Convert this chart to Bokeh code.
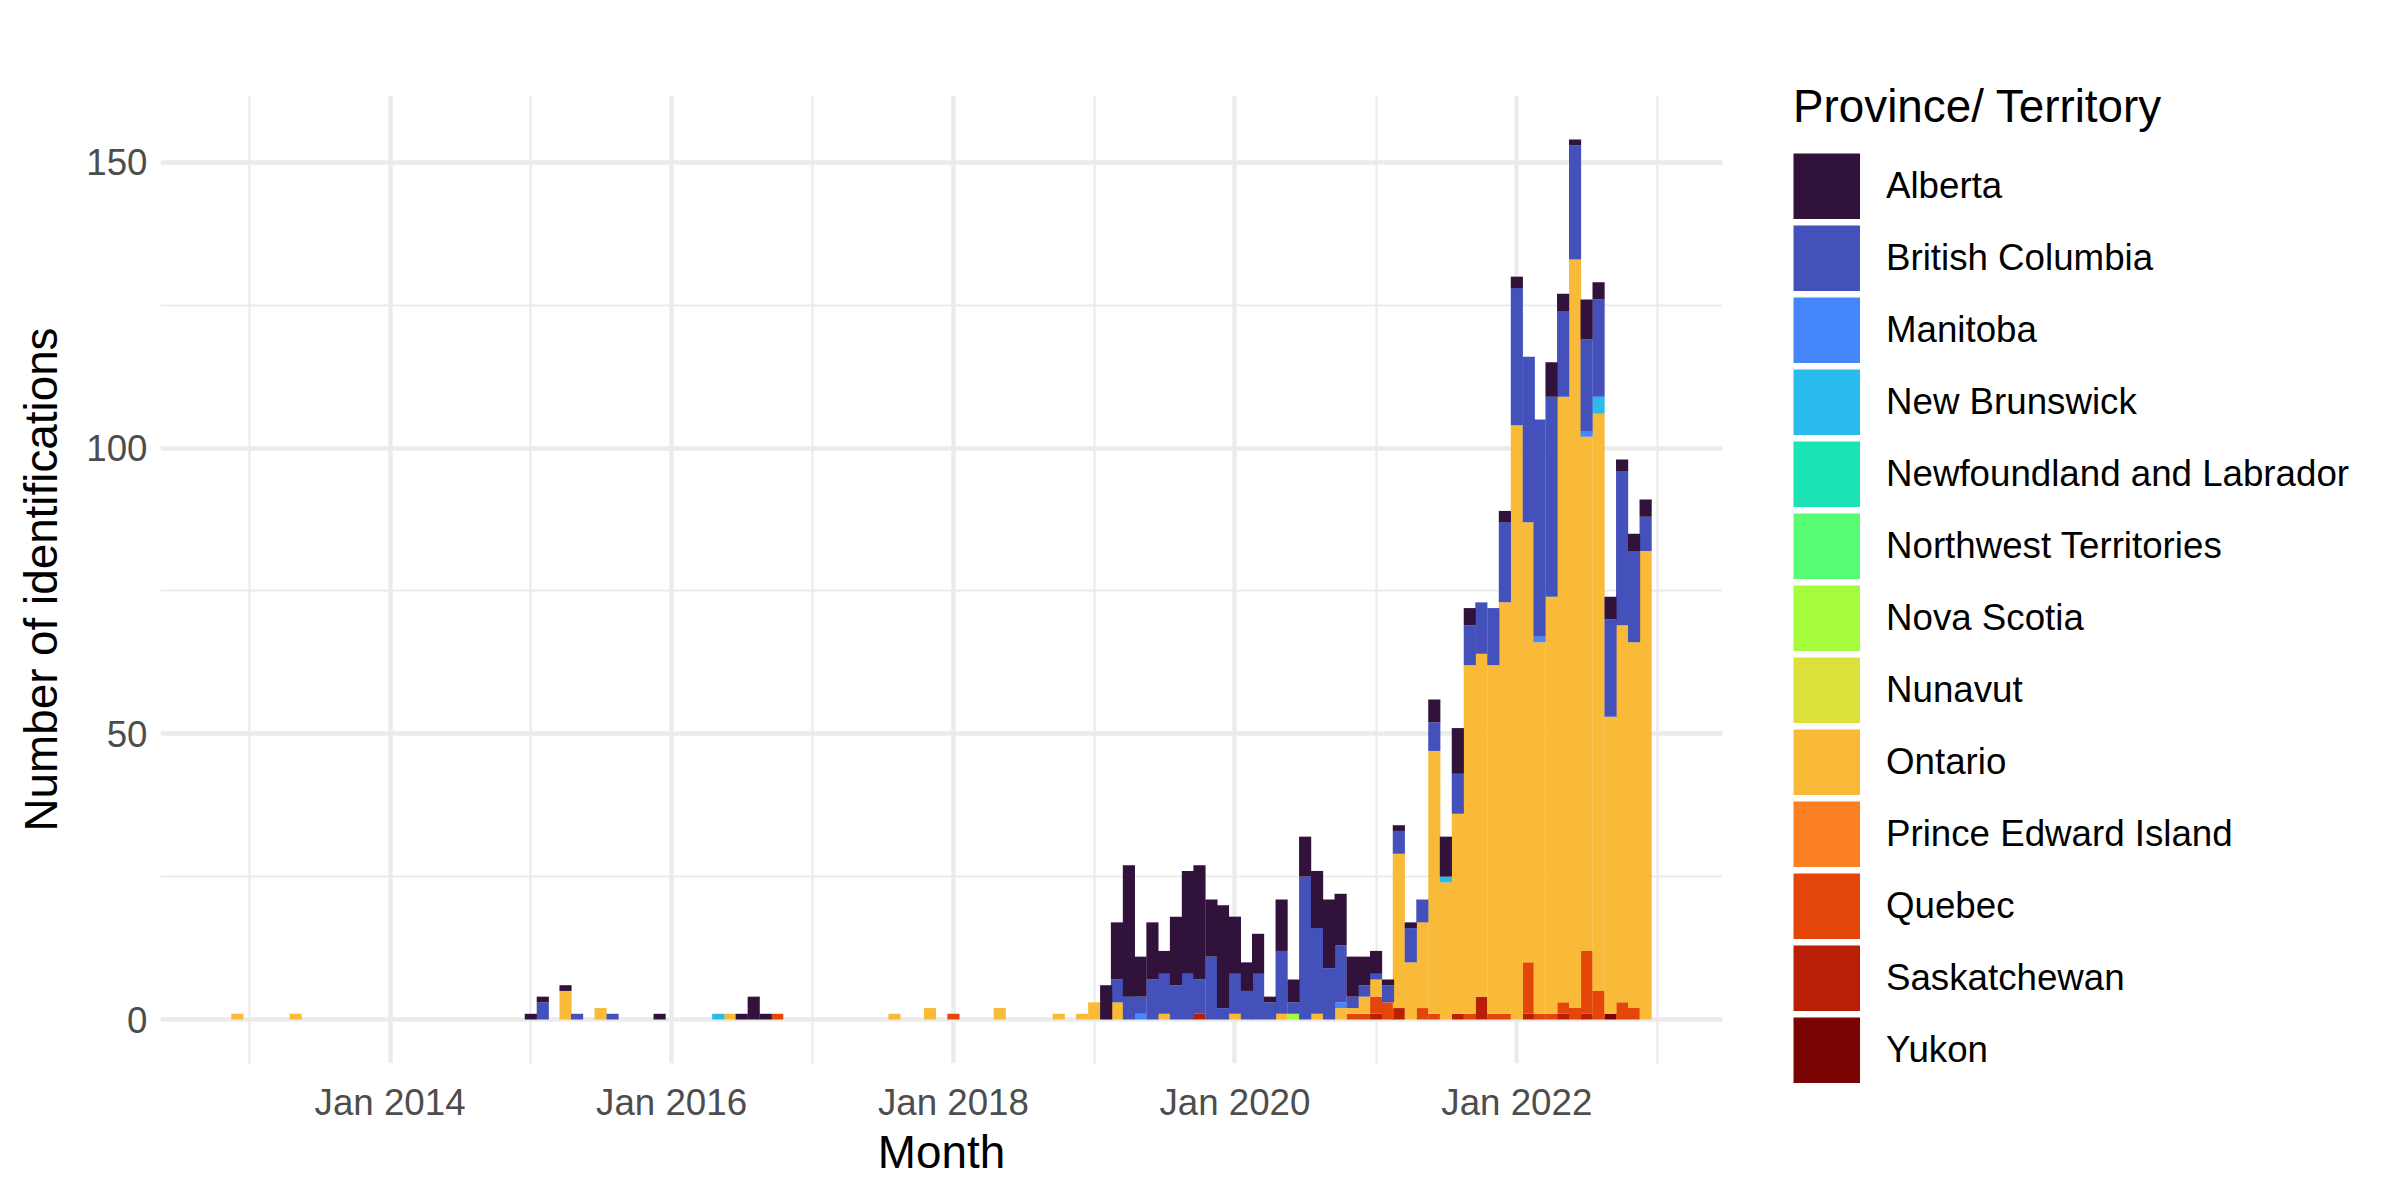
import pandas as pd
from bokeh.plotting import figure
from bokeh.layouts import row
from bokeh.models import (ColumnDataSource, FixedTicker, SingleIntervalTicker,
                          DatetimeTickFormatter, Legend, LegendItem, Range1d)
from bokeh.embed import file_html
from bokeh.resources import INLINE

# ---------------- data (monthly identifications by province/territory) ----------------
months = [
    "2012-12", "2013-05", "2015-01", "2015-02", "2015-04", "2015-05", "2015-07",
    "2015-08", "2015-12", "2016-05", "2016-06", "2016-07", "2016-08", "2016-09",
    "2016-10", "2017-08", "2017-11", "2018-01", "2018-05", "2018-10", "2018-12",
    "2019-01", "2019-02", "2019-03", "2019-04", "2019-05", "2019-06",
    "2019-07", "2019-08", "2019-09", "2019-10", "2019-11", "2019-12",
    "2020-01", "2020-02", "2020-03", "2020-04", "2020-05", "2020-06",
    "2020-07", "2020-08", "2020-09", "2020-10", "2020-11", "2020-12",
    "2021-01", "2021-02", "2021-03", "2021-04", "2021-05", "2021-06",
    "2021-07", "2021-08", "2021-09", "2021-10", "2021-11", "2021-12",
    "2022-01", "2022-02", "2022-03", "2022-04", "2022-05", "2022-06",
    "2022-07", "2022-08", "2022-09", "2022-10", "2022-11", "2022-12",
]

alberta = [0, 0, 1, 1, 1, 0, 0, 0, 1, 0, 0, 1, 4, 1, 0, 0, 0, 0, 0, 0, 0,
           0, 6, 10, 23, 7, 10, 4, 12, 18, 20, 10, 18,
           10, 5, 7, 1, 9, 4, 7, 10, 12, 9, 7, 5,
           4, 1, 1, 1, 0, 4, 7, 8, 3, 0, 0, 2,
           2, 0, 0, 6, 3, 1, 7, 3, 4, 2, 3, 3]
british_columbia = [0, 0, 0, 3, 0, 1, 0, 1, 0, 0, 0, 0, 0, 0, 0, 0, 0, 0, 0, 0, 0,
                    0, 0, 4, 4, 3, 7, 7, 6, 8, 6, 11, 2,
                    7, 5, 8, 3, 11, 2, 25, 15, 9, 10, 2, 2,
                    1, 3, 4, 6, 4, 5, 0, 7, 7, 9, 10, 14,
                    24, 29, 38, 35, 15, 20, 16, 17, 17, 27, 16, 6]
manitoba = [0, 0, 0, 0, 0, 0, 0, 0, 0, 0, 0, 0, 0, 0, 0, 0, 0, 0, 0, 0, 0,
            0, 0, 0, 0, 1, 0, 0, 0, 0, 0, 0, 0,
            0, 0, 0, 0, 0, 0, 0, 0, 0, 1, 0, 0,
            0, 0, 0, 0, 0, 0, 0, 0, 0, 0, 0, 0,
            0, 0, 1, 0, 0, 0, 1, 0, 0, 0, 0, 0]
new_brunswick = [0, 0, 0, 0, 0, 0, 0, 0, 0, 1, 0, 0, 0, 0, 0, 0, 0, 0, 0, 0, 0,
                 0, 0, 0, 0, 0, 0, 0, 0, 0, 0, 0, 0,
                 0, 0, 0, 0, 0, 0, 0, 0, 0, 0, 0, 0,
                 0, 0, 0, 0, 0, 0, 1, 0, 0, 0, 0, 0,
                 0, 0, 0, 0, 0, 0, 0, 3, 0, 0, 0, 0]
newfoundland = [0, 0, 0, 0, 0, 0, 0, 0, 0, 0, 0, 0, 0, 0, 0, 0, 0, 0, 0, 0, 0,
                0, 0, 0, 0, 0, 0, 0, 0, 0, 0, 0, 0,
                0, 0, 0, 0, 0, 0, 0, 0, 0, 0, 0, 0,
                0, 0, 0, 0, 0, 0, 0, 0, 0, 0, 0, 0,
                0, 0, 0, 0, 0, 0, 0, 0, 0, 0, 0, 0]
northwest_territories = [0, 0, 0, 0, 0, 0, 0, 0, 0, 0, 0, 0, 0, 0, 0, 0, 0, 0, 0, 0, 0,
                         0, 0, 0, 0, 0, 0, 0, 0, 0, 0, 0, 0,
                         0, 0, 0, 0, 0, 0, 0, 0, 0, 0, 0, 0,
                         0, 0, 0, 0, 0, 0, 0, 0, 0, 0, 0, 0,
                         0, 0, 0, 0, 0, 0, 0, 0, 0, 0, 0, 0]
nova_scotia = [0, 0, 0, 0, 0, 0, 0, 0, 0, 0, 0, 0, 0, 0, 0, 0, 0, 0, 0, 0, 0,
               0, 0, 0, 0, 0, 0, 0, 0, 0, 0, 0, 0,
               0, 0, 0, 0, 0, 1, 0, 0, 0, 0, 0, 0,
               0, 0, 0, 0, 0, 0, 0, 0, 0, 0, 0, 0,
               0, 0, 0, 0, 0, 0, 0, 0, 0, 0, 0, 0]
nunavut = [0, 0, 0, 0, 0, 0, 0, 0, 0, 0, 0, 0, 0, 0, 0, 0, 0, 0, 0, 0, 0,
           0, 0, 0, 0, 0, 0, 0, 0, 0, 0, 0, 0,
           0, 0, 0, 0, 0, 0, 0, 0, 0, 0, 0, 0,
           0, 0, 0, 0, 0, 0, 0, 0, 0, 0, 0, 0,
           0, 0, 0, 0, 0, 0, 0, 0, 0, 0, 0, 0]
ontario = [1, 1, 0, 0, 5, 0, 2, 0, 0, 0, 1, 0, 0, 0, 0, 1, 2, 0, 2, 1, 1,
           3, 0, 3, 0, 0, 0, 1, 0, 0, 0, 0, 0,
           1, 0, 0, 0, 1, 0, 0, 1, 0, 2, 1, 3,
           3, 0, 27, 10, 15, 46, 24, 35, 61, 60, 61, 72,
           104, 77, 65, 73, 106, 131, 90, 101, 52, 66, 64, 82]
prince_edward_island = [0, 0, 0, 0, 0, 0, 0, 0, 0, 0, 0, 0, 0, 0, 0, 0, 0, 0, 0, 0, 0,
                        0, 0, 0, 0, 0, 0, 0, 0, 0, 0, 0, 0,
                        0, 0, 0, 0, 0, 0, 0, 0, 0, 0, 0, 0,
                        0, 0, 0, 0, 0, 0, 0, 0, 0, 0, 0, 0,
                        0, 0, 0, 0, 0, 0, 0, 0, 0, 0, 0, 0]
quebec = [0, 0, 0, 0, 0, 0, 0, 0, 0, 0, 0, 0, 0, 0, 1, 0, 0, 1, 0, 0, 0,
          0, 0, 0, 0, 0, 0, 0, 0, 0, 0, 0, 0,
          0, 0, 0, 0, 0, 0, 0, 0, 0, 0, 1, 1,
          3, 3, 0, 0, 2, 1, 0, 0, 1, 0, 1, 1,
          0, 9, 1, 1, 2, 2, 11, 5, 0, 3, 2, 0]
saskatchewan = [0, 0, 0, 0, 0, 0, 0, 0, 0, 0, 0, 0, 0, 0, 0, 0, 0, 0, 0, 0, 0,
                0, 0, 0, 0, 0, 0, 0, 0, 0, 1, 0, 0,
                0, 0, 0, 0, 0, 0, 0, 0, 0, 0, 0, 0,
                1, 0, 2, 0, 0, 0, 0, 1, 0, 4, 0, 0,
                0, 1, 0, 0, 1, 0, 1, 0, 0, 0, 0, 0]
yukon = [0, 0, 0, 0, 0, 0, 0, 0, 0, 0, 0, 0, 0, 0, 0, 0, 0, 0, 0, 0, 0,
         0, 0, 0, 0, 0, 0, 0, 0, 0, 0, 0, 0,
         0, 0, 0, 0, 0, 0, 0, 0, 0, 0, 0, 0,
         0, 0, 0, 0, 0, 0, 0, 0, 0, 0, 0, 0,
         0, 0, 0, 0, 0, 0, 0, 0, 1, 0, 0, 0]

provinces = ["Alberta", "British Columbia", "Manitoba", "New Brunswick",
             "Newfoundland and Labrador", "Northwest Territories", "Nova Scotia",
             "Nunavut", "Ontario", "Prince Edward Island", "Quebec",
             "Saskatchewan", "Yukon"]
series = [alberta, british_columbia, manitoba, new_brunswick, newfoundland,
          northwest_territories, nova_scotia, nunavut, ontario,
          prince_edward_island, quebec, saskatchewan, yukon]
colors = ["#30123B", "#4451BB", "#4686FB", "#29BBEC", "#1AE4B6", "#58FB74",
          "#A4FC3C", "#DBE13A", "#F9BA38", "#FB8022", "#E4460A", "#B81F04",
          "#7A0403"]

major_years = [2014, 2016, 2018, 2020, 2022]
minor_years = [2013, 2015, 2017, 2019, 2021, 2023]
y_tick_interval = 50

# ---------------- build table ----------------
df = pd.DataFrame({name: vals for name, vals in zip(provinces, series)})
df["date"] = pd.to_datetime([m + "-01" for m in months])
src = ColumnDataSource(df)

DAY_MS = 86400000.0
month_w = 30.44 * DAY_MS       # nominal bar width used for the axis expansion
draw_w = 31.5 * DAY_MS         # drawn width (adjacent months touch)


def ms(ts):
    return pd.Timestamp(ts).value / 1e6


dmin = ms(df["date"].min()) - month_w / 2
dmax = ms(df["date"].max()) + month_w / 2
xpad = 0.05 * (dmax - dmin)
totals = df[provinces].sum(axis=1)
ytop = float(totals.max())

FONT = "Liberation Sans"
TOTAL_W, TOTAL_H = 2390, 1195
MAIN_W = 1738

p = figure(width=MAIN_W, height=TOTAL_H, x_axis_type="datetime",
           x_range=Range1d(dmin - xpad, dmax + xpad),
           y_range=Range1d(-0.05 * ytop, 1.05 * ytop),
           output_backend="svg", toolbar_location=None,
           min_border_left=160, min_border_right=16,
           min_border_top=95, min_border_bottom=132)
p.outline_line_color = None
p.background_fill_color = "white"
p.border_fill_color = "white"

stack_order = provinces[::-1]
stack_colors = colors[::-1]
p.vbar_stack(stack_order, x="date", width=draw_w, source=src,
             fill_color=stack_colors, line_color=None)

# ---------------- axes & grid ----------------
xt = FixedTicker(ticks=[ms(f"{y}-01-01") for y in major_years],
                 minor_ticks=[ms(f"{y}-01-01") for y in minor_years])
yt = SingleIntervalTicker(interval=y_tick_interval, num_minor_ticks=2)
p.xaxis.ticker = xt
p.xgrid.ticker = xt
p.yaxis.ticker = yt
p.ygrid.ticker = yt
fmt = "%b %Y"
p.xaxis.formatter = DatetimeTickFormatter(years=fmt, months=fmt, days=fmt,
                                          hours=fmt, hourmin=fmt)

for g in (p.xgrid, p.ygrid):
    g.grid_line_color = "#EBEBEB"
    g.grid_line_width = 4.4
    g.minor_grid_line_color = "#EBEBEB"
    g.minor_grid_line_width = 2.2

for ax in (p.xaxis, p.yaxis):
    ax.axis_line_color = None
    ax.major_tick_line_color = None
    ax.minor_tick_line_color = None
    ax.major_tick_out = 0
    ax.major_tick_in = 0
    ax.minor_tick_out = 0
    ax.minor_tick_in = 0
    ax.major_label_text_font = FONT
    ax.major_label_text_font_size = "36.7px"
    ax.major_label_text_color = "#4D4D4D"
    ax.axis_label_text_font = FONT
    ax.axis_label_text_font_size = "45.8px"
    ax.axis_label_text_font_style = "normal"
    ax.axis_label_text_color = "black"

p.xaxis.axis_label = "Month"
p.yaxis.axis_label = "Number of identifications"
p.xaxis.major_label_standoff = 18
p.xaxis.axis_label_standoff = 1
p.yaxis.major_label_standoff = 13
p.yaxis.axis_label_standoff = 16

# ---------------- legend panel (separate figure to the right) ----------------
lg = figure(width=TOTAL_W - MAIN_W, height=TOTAL_H, output_backend="svg",
            toolbar_location=None, x_axis_location=None, y_axis_location=None,
            x_range=Range1d(0, 1), y_range=Range1d(0, 1),
            min_border_left=0, min_border_right=0,
            min_border_top=0, min_border_bottom=0)
if "frame_align" in type(lg).properties():
    lg.frame_align = False
lg.outline_line_color = None
lg.grid.visible = False
lg.background_fill_color = "white"
lg.border_fill_color = "white"

KEY_W, KEY_H, KEY_GAP = 67, 66, 6
# zero-length thick lines act as swatch carriers: their legend key is a
# full-size (un-inset) KEY_W x KEY_H block of colour
items = []
for name, col in zip(provinces, colors):
    r = lg.line(x=[0, 0], y=[0, 0], line_width=KEY_H, line_color=col,
                line_cap="butt")
    items.append(LegendItem(label=name, renderers=[r]))

legend = Legend(items=items, location=(55, 112.5),
                title="Province/ Territory",
                title_text_font=FONT, title_text_font_size="45.8px",
                title_text_font_style="normal", title_text_color="black",
                title_standoff=20,
                label_text_font=FONT, label_text_font_size="36.7px",
                label_text_color="black",
                glyph_width=KEY_W, glyph_height=KEY_H, label_height=KEY_H,
                label_standoff=26, spacing=KEY_GAP, padding=0, margin=0,
                border_line_color=None, background_fill_alpha=0)
lg.add_layout(legend)

layout = row(p, lg)
open("out.html", "w").write(file_html(layout, INLINE))
